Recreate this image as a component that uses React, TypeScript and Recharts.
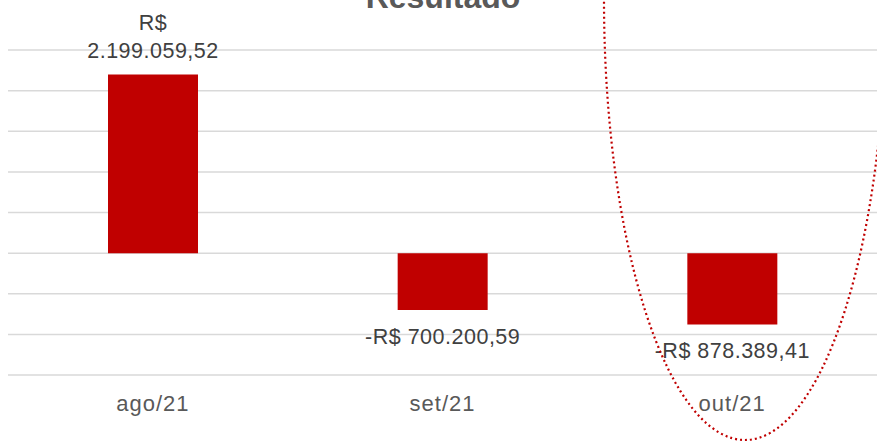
import { BarChart, Bar, XAxis, YAxis, CartesianGrid, LabelList } from "recharts";

const months = ["ago/21", "set/21", "out/21"];
const resultado = [2199059.52, -700200.59, -878389.41];
const yTicks = [-1500000, -1000000, -500000, 0, 500000, 1000000, 1500000, 2000000, 2500000];

const data = months.map((m, i) => ({ mes: m, resultado: resultado[i] }));

const fmt = (v: number) => {
  const abs = Math.abs(v);
  const [int, dec] = abs.toFixed(2).split(".");
  const withDots = int.replace(/\B(?=(\d{3})+(?!\d))/g, ".");
  return `${v < 0 ? "-" : ""}R$ ${withDots},${dec}`;
};

const ValueLabel = (props: any) => {
  const { x, y, width, height, value } = props;
  const cx = x + width / 2;
  const top = Math.min(y, y + height);
  const bottom = Math.max(y, y + height);
  const style = { fontFamily: "Liberation Sans, Arial, sans-serif", fontSize: 21.5, fill: "#404040", letterSpacing: 0.5 };
  if (value >= 0) {
    const parts = fmt(value).split(" ");
    return (
      <text x={cx} y={top - 16} textAnchor="middle" {...style}>
        <tspan x={cx} dy={-28}>{parts[0]}</tspan>
        <tspan x={cx} dy={28}>{parts[1]}</tspan>
      </text>
    );
  }
  return (
    <text x={cx} y={bottom + 34} textAnchor="middle" {...style}>
      {fmt(value)}
    </text>
  );
};

export default function App() {
  return (
    <div style={{ position: "absolute", left: 0, top: 0, width: 877, height: 441, background: "#fff", overflow: "hidden" }}>
      <BarChart width={877} height={441} data={data} margin={{ top: 50, right: 0, left: 8, bottom: 36 }} barSize={90}>
        <CartesianGrid vertical={false} stroke="#d9d9d9" strokeWidth={1.5} />
        <YAxis hide domain={[-1500000, 2500000]} ticks={yTicks} />
        <XAxis
          dataKey="mes"
          axisLine={false}
          tickLine={false}
          tickMargin={14}
          tick={{ fontFamily: "Liberation Sans, Arial, sans-serif", fontSize: 22, fill: "#595959", letterSpacing: 1 }}
        />
        <Bar dataKey="resultado" fill="#c00000" isAnimationActive={false}>
          <LabelList dataKey="resultado" content={ValueLabel} />
        </Bar>
      </BarChart>
      <svg width={877} height={441} style={{ position: "absolute", left: 0, top: 0, pointerEvents: "none" }}>
        <text x={443} y={8} textAnchor="middle" fontFamily="Liberation Sans, Arial, sans-serif" fontWeight="bold" fontSize={32} fill="#595959">
          Resultado
        </text>
        <ellipse
          cx={745}
          cy={0}
          rx={141}
          ry={440}
          fill="none"
          stroke="#c00000"
          strokeWidth={2.2}
          strokeDasharray="2 3"
        />
      </svg>
    </div>
  );
}
